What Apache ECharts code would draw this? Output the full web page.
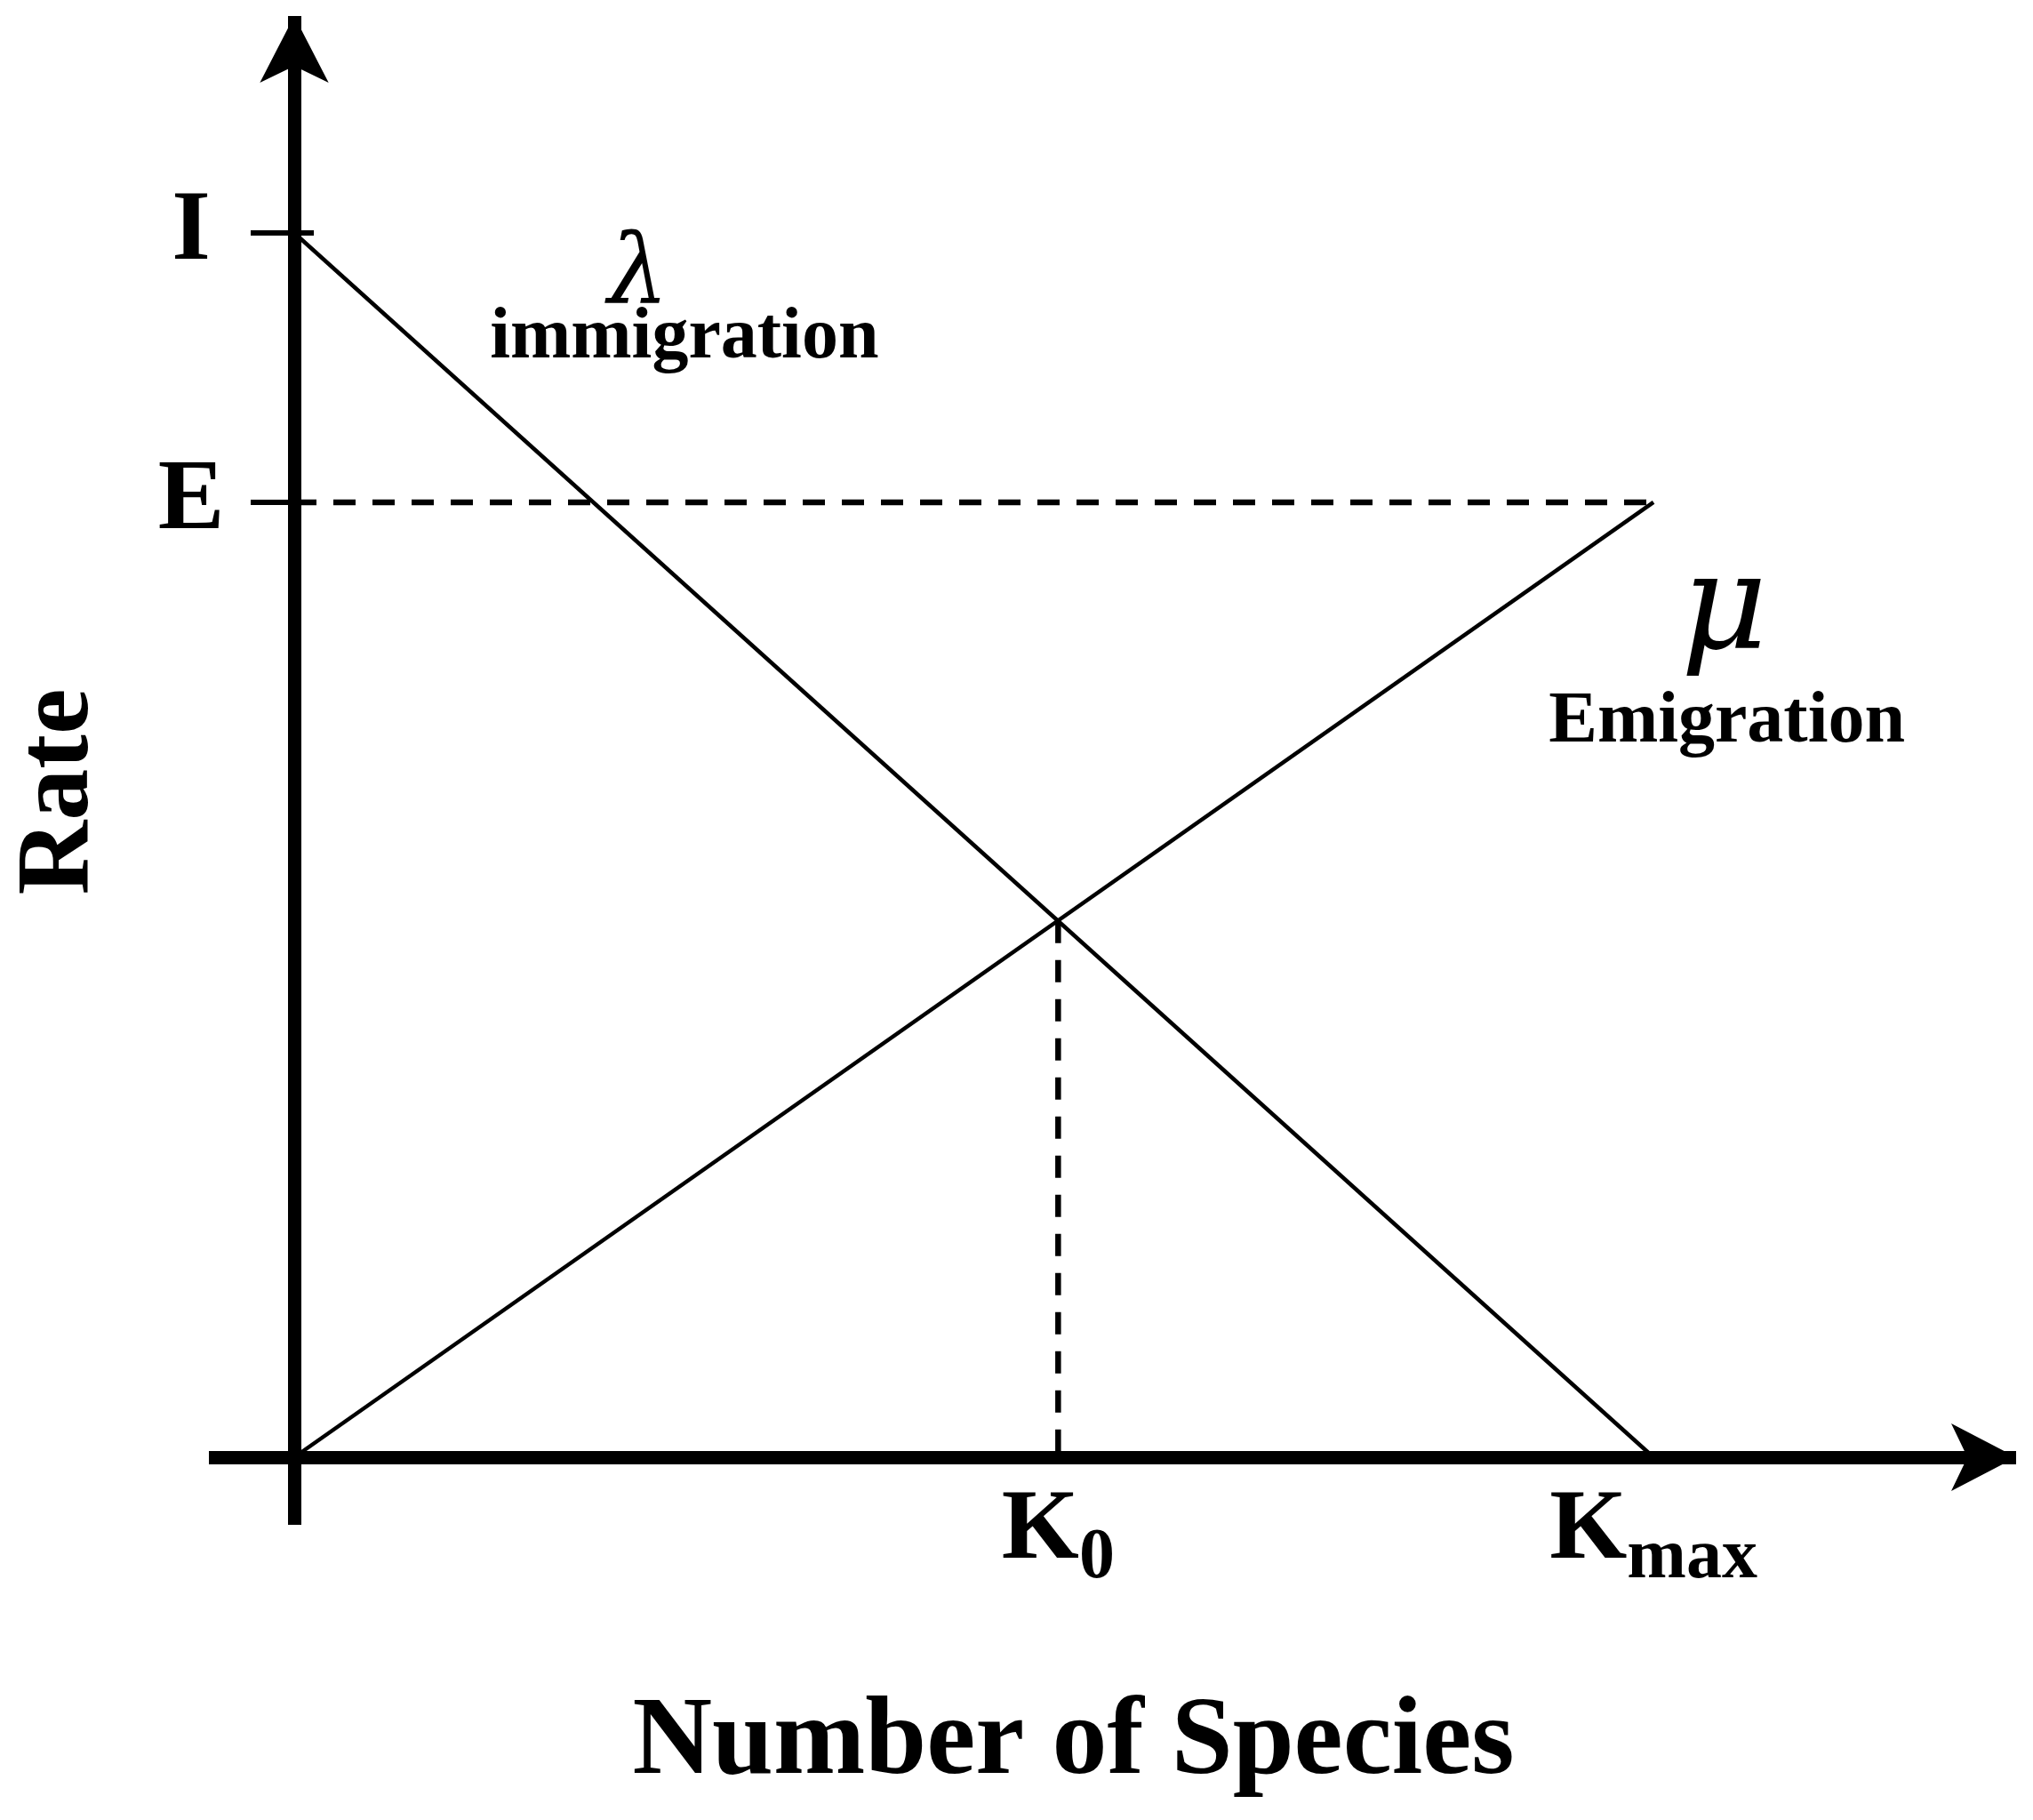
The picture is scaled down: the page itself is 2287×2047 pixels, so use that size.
<!DOCTYPE html>
<html>
<head>
<meta charset="utf-8">
<title>Immigration and emigration rates</title>
<script src="https://cdn.jsdelivr.net/npm/echarts@6/dist/echarts.min.js"></script>
<style>
  html, body { margin: 0; padding: 0; background: #fff; }
  #main { width: 2287px; height: 2047px; }
</style>
</head>
<body>
<div id="main"></div>
<script>
// number of species: 0 and K max, and the two straight rate lines over it
var species = [0, 100]
var immigration = [100, 0]   // lambda, falls from I to 0
var emigration = [0, 78]     // mu, rises from 0 to E
// where the two lines cross
var k0 = 56.2
var rateAtK0 = 43.8
// tick marks and their names
var rateTicks = [78, 100]
var rateTickNames = ['E', 'I']
var speciesTicks = [56.2, 100]
var speciesTickNames = ['K0', 'Kmax']

var serif = 'Liberation Serif'
var chart = echarts.init(document.getElementById('main'), null, { renderer: 'canvas' })

function pairs(xs, ys) {
  return xs.map(function (x, i) { return [x, ys[i]] })
}

var solid = { color: '#000', width: 4.5 }
var dashed = { color: '#000', width: 6.5, type: [25, 19] }

// note: with onZero the labels and names are placed from the grid edge,
// not from the moved axis line, hence the small gaps below
var option = {
  backgroundColor: '#fff',
  animation: false,
  grid: { left: 235, right: 19, top: 18, bottom: 332, containLabel: false, outerBoundsMode: 'none' },
  xAxis: {
    type: 'value',
    min: -6.28,
    max: 126.68,
    splitLine: { show: false },
    axisTick: { show: false },
    axisLine: {
      onZero: true,
      symbol: ['none', 'arrow'],
      symbolSize: [57, 73],
      lineStyle: { color: '#000', width: 15, cap: 'butt' }
    },
    axisLabel: {
      customValues: speciesTicks,
      margin: 8,
      verticalAlign: 'middle',
      formatter: function (v) {
        var s = speciesTickNames[speciesTicks.indexOf(v)] || ''
        return '{k|' + s.charAt(0) + '}{s|' + s.slice(1) + '}'
      },
      rich: {
        k: { fontFamily: serif, fontWeight: 'bold', fontSize: 112, lineHeight: 140, verticalAlign: 'middle', color: '#000' },
        s: { fontFamily: serif, fontWeight: 'bold', fontSize: 80, lineHeight: 80, verticalAlign: 'bottom', color: '#000' }
      }
    },
    name: 'Number of Species',
    nameLocation: 'middle',
    nameGap: 247,
    nameMoveOverlap: false,
    nameTextStyle: {
      fontFamily: serif, fontWeight: 'bold', fontSize: 124, color: '#000',
      verticalAlign: 'middle', padding: [0, 88, 0, 0]
    }
  },
  yAxis: {
    type: 'value',
    min: -5.52,
    max: 117.72,
    splitLine: { show: false },
    axisLine: {
      onZero: true,
      symbol: ['none', 'arrow'],
      symbolSize: [58, 75],
      lineStyle: { color: '#000', width: 15, cap: 'butt' }
    },
    axisTick: {
      customValues: rateTicks,
      length: 49,
      lineStyle: { color: '#000', width: 6 }
    },
    axisLabel: {
      customValues: rateTicks,
      margin: 20,
      align: 'center',
      verticalAlign: 'middle',
      fontFamily: serif,
      fontWeight: 'bold',
      fontSize: 112,
      color: '#000',
      formatter: function (v) { return rateTickNames[rateTicks.indexOf(v)] || '' }
    },
    name: 'Rate',
    nameLocation: 'middle',
    nameGap: 167,
    nameMoveOverlap: false,
    nameTextStyle: {
      fontFamily: serif, fontWeight: 'bold', fontSize: 116, color: '#000',
      verticalAlign: 'middle', padding: [0, 48, 0, 0]
    }
  },
  series: [
    { name: 'immigration', type: 'line', data: pairs(species, immigration), symbol: 'none', lineStyle: solid, silent: true },
    { name: 'emigration', type: 'line', data: pairs(species, emigration), symbol: 'none', lineStyle: solid, silent: true },
    { name: 'E level', type: 'line', data: pairs(species, [emigration[1], emigration[1]]), symbol: 'none', lineStyle: dashed, silent: true },
    { name: 'K0 drop', type: 'line', data: [[k0, rateAtK0], [k0, 0]], symbol: 'none', lineStyle: dashed, silent: true },
    // the ticks on the rate axis poke a little past the axis line
    {
      name: 'tick stubs', type: 'lines', coordinateSystem: 'cartesian2d', silent: true,
      data: rateTicks.map(function (v) { return { coords: [[0, v], [1.44, v]] } }),
      lineStyle: { color: '#000', width: 6, opacity: 1 }
    },
    {
      name: 'notes', type: 'scatter', symbolSize: 0, silent: true,
      itemStyle: { color: '#000', opacity: 1 },
      label: { show: true, position: 'inside', color: '#000', opacity: 1, fontFamily: serif },
      data: [
        { value: [25.3, 96.3], label: { formatter: 'λ', fontFamily: 'DejaVu Serif', fontStyle: 'italic', fontSize: 108 } },
        { value: [28.7, 91.4], label: { formatter: 'immigration', fontWeight: 'bold', fontSize: 82 } },
        { value: [105.2, 68.9], label: { formatter: 'μ', fontFamily: 'DejaVu Serif', fontStyle: 'italic', fontSize: 150 } },
        { value: [105.4, 60.0], label: { formatter: 'Emigration', fontWeight: 'bold', fontSize: 82 } }
      ]
    }
  ]
}

chart.setOption(option)
</script>
</body>
</html>
